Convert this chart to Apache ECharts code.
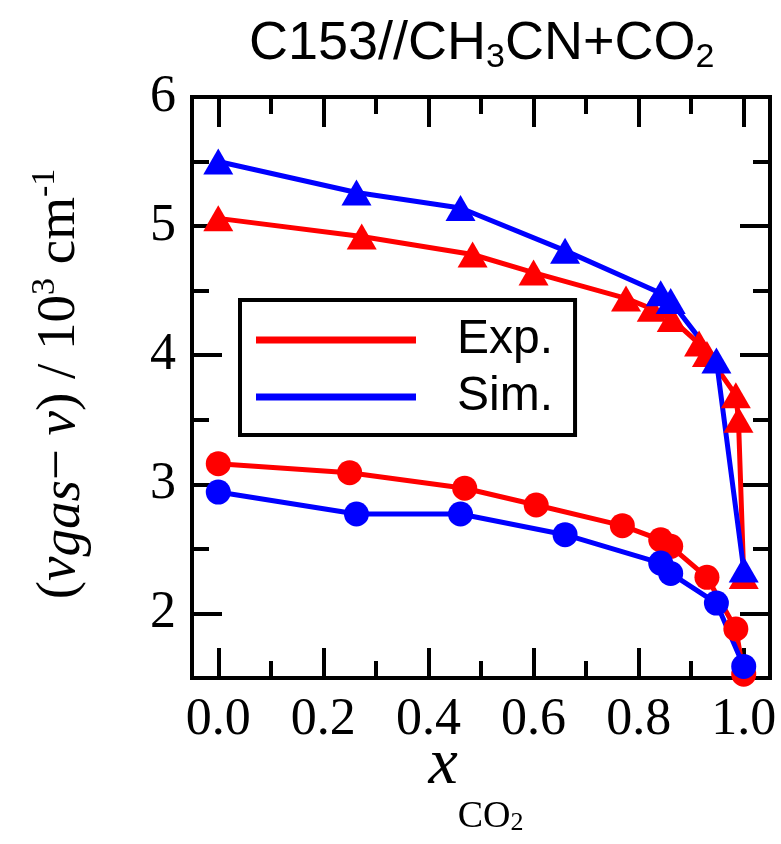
<!DOCTYPE html>
<html>
<head>
<meta charset="utf-8">
<script src="https://cdn.jsdelivr.net/npm/echarts@6/dist/echarts.min.js"></script>
<style>html,body{margin:0;padding:0;background:#fff}#c{width:781px;height:844px}</style>
</head>
<body>
<div id="c"></div>
<script>
// ---- data ----
const expTriX = [0, 0.273, 0.484, 0.60, 0.776, 0.825, 0.863, 0.915, 0.93, 0.985, 0.99, 1.0];
const expTriY = [5.06, 4.92, 4.78, 4.64, 4.44, 4.36, 4.28, 4.09, 4.01, 3.69, 3.50, 2.29];
const expCirX = [0, 0.25, 0.469, 0.605, 0.769, 0.842, 0.861, 0.93, 0.985, 1.0];
const expCirY = [3.16, 3.09, 2.97, 2.84, 2.68, 2.57, 2.52, 2.28, 1.88, 1.53];
const simX = [0, 0.263, 0.461, 0.66, 0.842, 0.861, 0.948, 1.0];
const simTriY = [5.50, 5.26, 5.14, 4.81, 4.48, 4.42, 3.96, 2.34];
const simCirY = [2.94, 2.77, 2.77, 2.61, 2.39, 2.31, 2.08, 1.59];
// axis ranges / ticks
const xRange = [-0.05, 1.05];
const yRange = [1.5, 6];
const xTickRange = [0, 1], xTickStep = 0.2;
const yTickRange = [2, 6], yTickStep = 1;
const xTopMajor = [0, 0.2, 0.4, 0.6, 0.8, 1.0];
const xTopMinor = [0.1, 0.3, 0.5, 0.7, 0.9];
const legendNames = ['Exp.', 'Sim.'];

const pairs = (xs, ys) => xs.map((x, i) => [x, ys[i]]);
const RED = '#ff0000', BLUE = '#0000ff';
const serif = 'Liberation Serif';
const sans = 'Liberation Sans';

// plot frame geometry (pixels)
const CW = 781, CH = 844;
const G = { left: 192, right: 11, top: 97, bottom: 166 };
const W = CW - G.left - G.right, H = CH - G.top - G.bottom;
const pxPerX = W / (xRange[1] - xRange[0]);
const pxPerY = H / (yRange[1] - yRange[0]);
const MAJOR_LEN = 30, MINOR_LEN = 17;
// grid whose x extent equals the tick range [0,1] (bottom ticks)
const gX = { left: G.left + (xTickRange[0] - xRange[0]) * pxPerX,
             right: G.right + (xRange[1] - xTickRange[1]) * pxPerX,
             top: G.top, bottom: G.bottom };
// grid whose y extent equals the tick range [2,6]
const gY = { left: G.left, right: G.right,
             top: G.top + (yRange[1] - yTickRange[1]) * pxPerY,
             bottom: G.bottom + (yTickRange[0] - yRange[0]) * pxPerY };

const tickLine = { color: '#000', width: 4 };
const hiddenAxis = (gi, min, max) => ({
  type: 'value', gridIndex: gi, min: min, max: max, show: false,
  axisLine: { show: false, onZero: false }, axisTick: { show: false },
  axisLabel: { show: false }, splitLine: { show: false }
});
function tickAxis(gi, pos, min, max, step, labels, fmt) {
  return {
    type: 'value', gridIndex: gi, position: pos, min: min, max: max, interval: step,
    axisLine: { show: true, onZero: false, lineStyle: { color: '#000', width: 4 } },
    splitLine: { show: false },
    axisTick: { show: true, inside: true, length: MAJOR_LEN, lineStyle: tickLine },
    minorTick: { show: true, splitNumber: 2, length: MINOR_LEN, lineStyle: tickLine },
    axisLabel: labels ? { show: true, formatter: fmt, fontFamily: serif, fontSize: 52,
      color: '#000', margin: 16 } : { show: false }
  };
}

// top-edge ticks, expressed in data coordinates of the main axes
const topTicks = [].concat(
  xTopMajor.map(x => [{ coord: [x, yRange[1]] }, { coord: [x, yRange[1] - MAJOR_LEN / pxPerY] }]),
  xTopMinor.map(x => [{ coord: [x, yRange[1]] }, { coord: [x, yRange[1] - MINOR_LEN / pxPerY] }])
);

function ser(name, data, color, symbol, size, extra) {
  return Object.assign({
    type: 'line', name: name, data: data, symbol: symbol, symbolSize: size,
    xAxisIndex: 0, yAxisIndex: 0,
    lineStyle: { color: color, width: 5 },
    itemStyle: { color: color },
    showSymbol: true, animation: false
  }, extra || {});
}

const chart = echarts.init(document.getElementById('c'), null, { renderer: 'canvas' });
chart.setOption({
  backgroundColor: '#fff',
  animation: false,
  title: {
    text: '{a|C153//CH}{s|3}{a|CN+CO}{s|2}',
    left: 244, top: 8,
    textStyle: {
      fontWeight: 'normal',
      rich: {
        a: { fontFamily: sans, fontSize: 54, fontWeight: 'normal', color: '#000', lineHeight: 62 },
        s: { fontFamily: sans, fontSize: 34, fontWeight: 'normal', color: '#000', lineHeight: 22, verticalAlign: 'bottom' }
      }
    }
  },
  grid: [
    { left: G.left, right: G.right, top: G.top, bottom: G.bottom, show: true,
      borderColor: '#000', borderWidth: 4, backgroundColor: 'transparent' },
    gX, gY
  ],
  xAxis: [
    hiddenAxis(0, xRange[0], xRange[1]),
    tickAxis(1, 'bottom', xTickRange[0], xTickRange[1], xTickStep, true, v => v.toFixed(1)),
    hiddenAxis(2, 0, 1)
  ],
  yAxis: [
    hiddenAxis(0, yRange[0], yRange[1]),
    hiddenAxis(1, 0, 1),
    tickAxis(2, 'left', yTickRange[0], yTickRange[1], yTickStep, true, v => String(v)),
    tickAxis(2, 'right', yTickRange[0], yTickRange[1], yTickStep, false)
  ],
  legend: {
    data: legendNames, left: 240, top: 300, orient: 'vertical',
    icon: 'rect', itemWidth: 160, itemHeight: 7, itemGap: 5,
    padding: [14, 22, 12, 16],
    borderColor: '#000', borderWidth: 4, backgroundColor: '#fff',
    textStyle: { fontFamily: sans, fontSize: 48, color: '#000', lineHeight: 52, padding: [0, 0, 0, 36] },
    selectedMode: false
  },
  graphic: [
    {
      type: 'text', x: 60, y: 384, rotation: Math.PI / 2,
      style: {
        text: '{n|(}{i|ν}{sub|gas}{n|− }{i|ν}{n|) / 10}{sup|3}{n| cm}{sup|-1}',
        align: 'center', verticalAlign: 'middle',
        rich: {
          n: { fontFamily: serif, fontSize: 55, fill: '#000', lineHeight: 64 },
          i: { fontFamily: serif, fontSize: 55, fontStyle: 'italic', fill: '#000', lineHeight: 64 },
          sub: { fontFamily: serif, fontSize: 55, fontStyle: 'italic', fill: '#000', lineHeight: 26, verticalAlign: 'bottom' },
          sup: { fontFamily: serif, fontSize: 34, fill: '#000', lineHeight: 22, verticalAlign: 'top' }
        }
      }
    },
    {
      type: 'text', x: 476, y: 766,
      style: {
        text: '{i|x}{s|CO}{ss|2}',
        align: 'center', verticalAlign: 'middle',
        rich: {
          i: { fontFamily: serif, fontSize: 66, fontStyle: 'italic', fill: '#000', lineHeight: 140 },
          s: { fontFamily: serif, fontSize: 38, fill: '#000', lineHeight: 52, verticalAlign: 'bottom' },
          ss: { fontFamily: serif, fontSize: 26, fill: '#000', lineHeight: 16, verticalAlign: 'bottom' }
        }
      }
    }
  ],
  series: [
    ser('Exp.', pairs(expTriX, expTriY), RED, 'triangle', [30, 26], {
      markLine: {
        silent: true, symbol: ['none', 'none'], animation: false,
        label: { show: false }, emphasis: { disabled: true },
        lineStyle: { color: '#000', width: 4, type: 'solid' },
        data: topTicks
      }
    }),
    ser('Exp.', pairs(expCirX, expCirY), RED, 'circle', 25),
    ser('Sim.', pairs(simX, simTriY), BLUE, 'triangle', [30, 26]),
    ser('Sim.', pairs(simX, simCirY), BLUE, 'circle', 25)
  ]
});
</script>
</body>
</html>
